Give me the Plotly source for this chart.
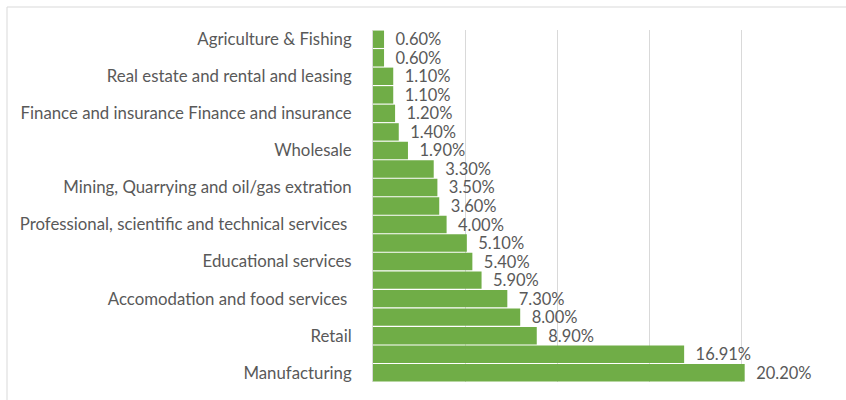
import plotly.graph_objects as go

# Categories top to bottom (None = label not shown on axis)
labels = [
    "Agriculture & Fishing", None,
    "Real estate and rental and leasing", None,
    "Finance and insurance Finance and insurance", None,
    "Wholesale", None,
    "Mining, Quarrying and oil/gas extration", None,
    "Professional, scientific and technical services ", None,
    "Educational services", None,
    "Accomodation and food services ", None,
    "Retail", None,
    "Manufacturing",
]
values = [0.60, 0.60, 1.10, 1.10, 1.20, 1.40, 1.90, 3.30, 3.50, 3.60,
          4.00, 5.10, 5.40, 5.90, 7.30, 8.00, 8.90, 16.91, 20.20]
x_ticks = [0, 5, 10, 15, 20, 25]

positions = list(range(len(values)))
tickvals = [p for p, l in zip(positions, labels) if l is not None]
ticktext = [l for l in labels if l is not None]

FONT = "Lato, 'Open Sans', sans-serif"
GREY = "#595959"

fig = go.Figure(go.Bar(
    x=values,
    y=positions,
    orientation="h",
    marker=dict(color="#70AD47", line=dict(width=0)),
    text=[f"{v:.2f}%" for v in values],
    texttemplate="  %{text}",
    textposition="outside",
    constraintext="none",
    textfont=dict(family=FONT, size=16.5, color=GREY),
    cliponaxis=False,
    hoverinfo="skip",
))

ML, MR, MT, MB = 373, 13, 30, 18
W, H = 846, 400
pw, ph = W - ML - MR, H - MT - MB

fig.update_layout(
    width=W, height=H,
    margin=dict(l=ML, r=MR, t=MT, b=MB, pad=0),
    paper_bgcolor="white",
    plot_bgcolor="white",
    bargap=0.06,
    showlegend=False,
    uniformtext=dict(mode=False),
    font=dict(family=FONT, size=16.5, color=GREY),
    xaxis=dict(
        range=[0, 25],
        tickvals=x_ticks,
        showticklabels=False,
        showgrid=True,
        gridcolor="#D9D9D9",
        gridwidth=1,
        zeroline=False,
        showline=False,
        fixedrange=True,
    ),
    yaxis=dict(
        range=[len(values) - 0.5, -0.5],
        tickvals=tickvals,
        ticktext=ticktext,
        ticks="",
        ticklabelstandoff=17,
        showgrid=False,
        zeroline=False,
        showline=True,
        linecolor="#D9D9D9",
        linewidth=1,
        tickfont=dict(family=FONT, size=16.8, color=GREY),
        fixedrange=True,
    ),
    shapes=[dict(
        type="rect", xref="paper", yref="paper",
        x0=(7 - ML) / pw, x1=(W + 10 - ML) / pw,
        y0=(H - MB - (H + 10)) / ph, y1=(H - MB - 7) / ph,
        line=dict(color="#D9D9D9", width=1),
        fillcolor="rgba(0,0,0,0)",
        layer="below",
    )],
)

fig.write_html("out.html")
